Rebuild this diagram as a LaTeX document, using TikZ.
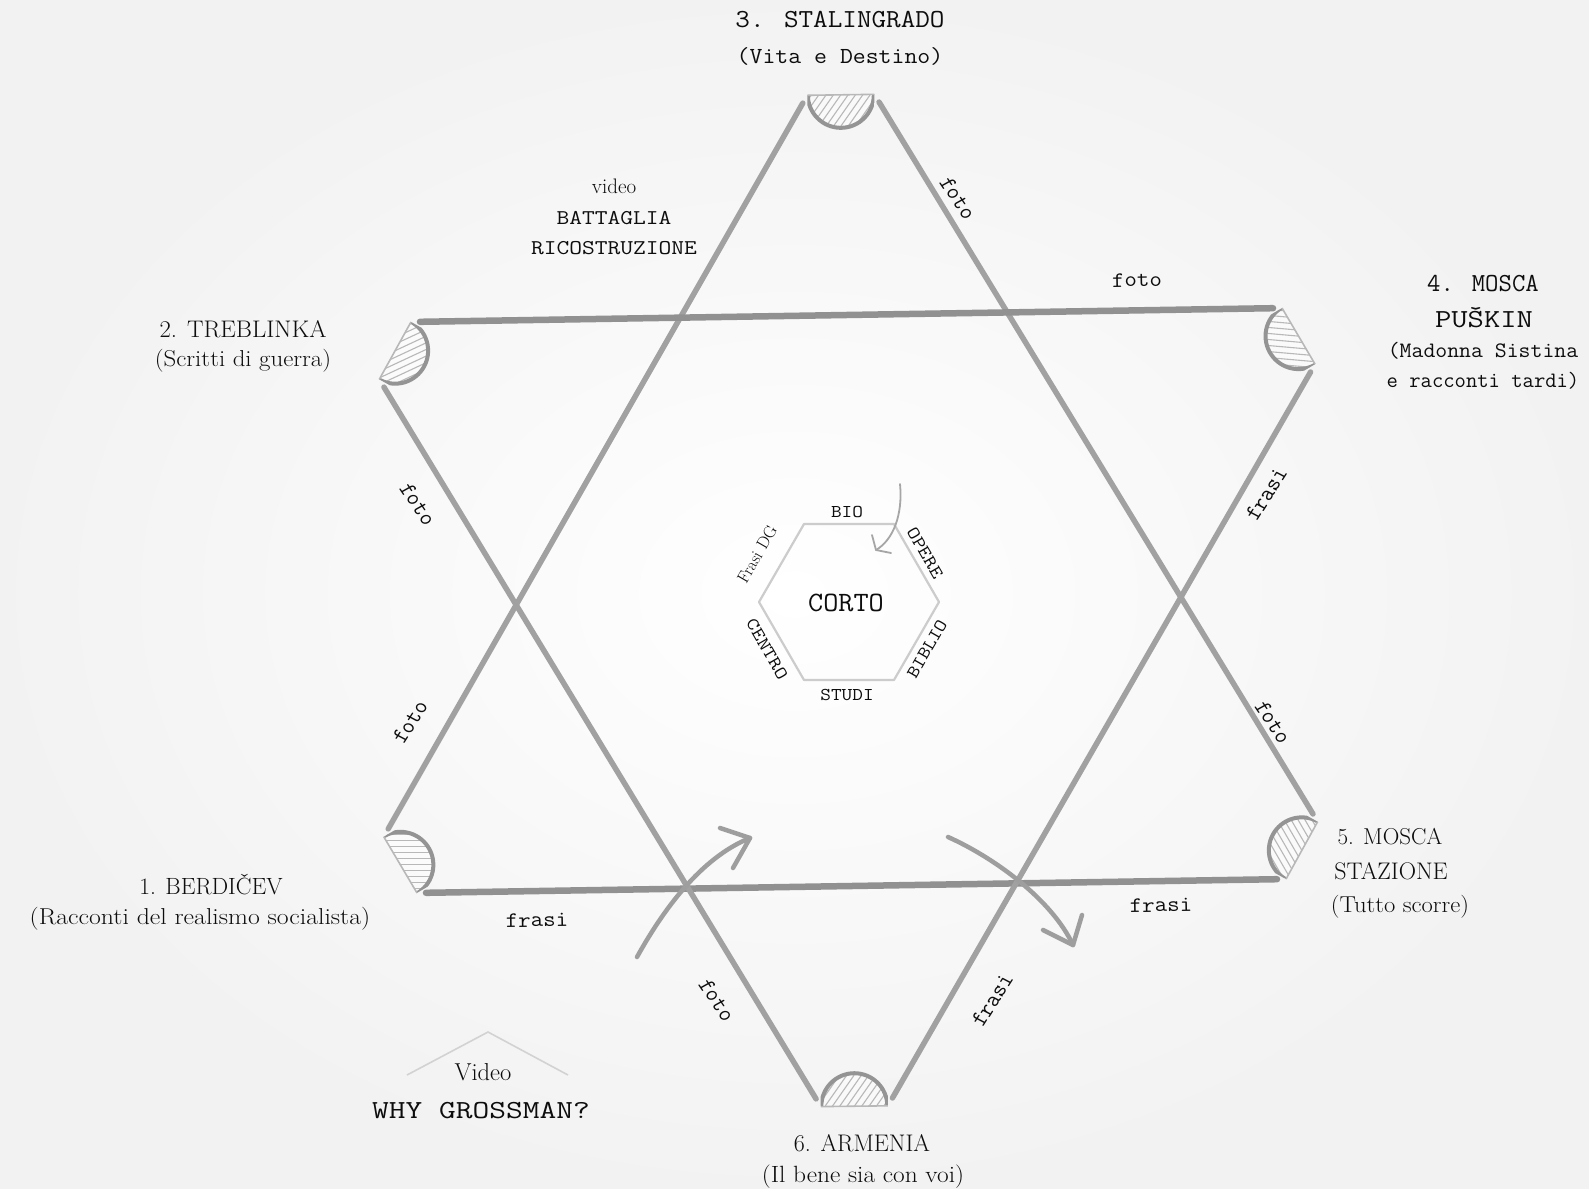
\documentclass[tikz,border=0pt]{standalone}
\usepackage{fontspec}
\usetikzlibrary{calc}
\definecolor{ink}{gray}{0.05}
\definecolor{edgec}{gray}{0.63}
\definecolor{edgedark}{gray}{0.57}
\definecolor{hatchc}{gray}{0.72}
\definecolor{arcc}{gray}{0.58}
\definecolor{hexc}{gray}{0.80}
\definecolor{arrowc}{gray}{0.62}
\newcommand{\capmark}[4]{%
  \coordinate (c1) at ($(#1)!66pt!(#2)$);
  \coordinate (c2) at ($(#1)!66pt!(#3)$);
  \coordinate (cm) at ($(c1)!0.5!(c2)$);
  \begin{scope}
    \clip (c1) -- (c2) -- ($(c2)+(cm)-(#1)$) -- ($(c1)+(cm)-(#1)$) -- cycle;
    \begin{scope}
      \clip (cm) circle (33pt);
      \fill[white,opacity=0.5] (cm) circle (33pt);
      \begin{scope}[shift={(cm)},rotate=#4]
        \foreach \k in {-36,-30,...,36}
          \draw[hatchline] (\k,-40) -- (\k,40);
      \end{scope}
    \end{scope}
    \draw[caparc] (cm) circle (33pt);
  \end{scope}
  \draw[chordline] (c1) -- (c2);
}
\begin{document}
\begin{tikzpicture}[x=1pt,y=-1pt,
  starline/.style={draw=edgec,line width=5.5pt,line cap=round},
  starlinedk/.style={draw=edgedark,line width=6.5pt,line cap=round},
  hatchline/.style={draw=hatchc,line width=1.1pt},
  caparc/.style={draw=arcc,line width=4pt},
  chordline/.style={draw=hatchc,line width=1.6pt},
  hexline/.style={draw=hexc,line width=2.2pt,line join=round},
  arrowline/.style={draw=arrowc,line width=4.5pt,line cap=round},
  tw/.style={font=\ttfamily\fontsize{#1}{#1}\selectfont,text=ink,inner sep=0pt},
  rm/.style={font=\rmfamily\fontsize{#1}{#1}\selectfont,text=ink,inner sep=0pt}
]
\useasboundingbox (0,0) rectangle (1589,1188);
\shade[inner color=white,outer color=black!5] (0,0) rectangle (1589,1188);

% vertices of the two triangles
\coordinate (T)  at (840,38);
\coordinate (BL) at (351,894);
\coordinate (BR) at (1352,878);
\coordinate (TL) at (345,323);
\coordinate (TR) at (1348,307);
\coordinate (BM) at (855,1163);

% triangle pointing up
\draw[starline]   ($(T)!75pt!(BL)$) -- ($(BL)!75pt!(T)$);
\draw[starline]   ($(T)!75pt!(BR)$) -- ($(BR)!75pt!(T)$);
\draw[starlinedk] ($(BL)!75pt!(BR)$) -- ($(BR)!75pt!(BL)$);
% triangle pointing down
\draw[starlinedk] ($(TL)!75pt!(TR)$) -- ($(TR)!75pt!(TL)$);
\draw[starline]   ($(TL)!75pt!(BM)$) -- ($(BM)!75pt!(TL)$);
\draw[starline]   ($(TR)!75pt!(BM)$) -- ($(BM)!75pt!(TR)$);

% hatched caps
\capmark{T}{BL}{BR}{-35}
\capmark{TL}{TR}{BM}{-65}
\capmark{TR}{TL}{BM}{-95}
\capmark{BL}{T}{BR}{90}
\capmark{BM}{TL}{TR}{-35}
\capmark{BR}{T}{BL}{30}

% central hexagon
\draw[hexline] (939,602) -- (894,524) -- (804,524) -- (759,602) -- (804,680) -- (894,680) -- cycle;
\node[tw=28,xscale=1.05] (corto) at (846,603) {CORTO};
\node[tw=18,xscale=1.15] (bio) at (847,512) {BIO};
\node[tw=18,rotate=-60,xscale=1.2] (opere) at (925,553) {OPERE};
\node[tw=18,rotate=60,xscale=1.15] (biblio) at (927,649) {BIBLIO};
\node[tw=18,xscale=1.15] (studi) at (847,695) {STUDI};
\node[tw=18,rotate=-60,xscale=1.2] (centro) at (767,649) {CENTRO};
\node[rm=17,rotate=60] (frasidg) at (757,554) {Frasi DG};

% small arrow in hexagon
\coordinate (ha) at (900,484);
\coordinate (hb) at (876,550);
\coordinate (hc) at (872,535);
\coordinate (hd) at (891,553);
\draw[draw=gray!70,line width=1.8pt,line cap=round] (ha) .. controls (903,515) and (893,540) .. (hb);
\draw[draw=gray!70,line width=1.8pt,line cap=round,line join=round] (hc) -- (hb) -- (hd);

% big curved arrows
\coordinate (a1s) at (637,957);
\coordinate (a1e) at (750,838);
\coordinate (a1b) at (720,828);
\coordinate (a1c) at (733,868);
\draw[arrowline] (a1s) .. controls (662,912) and (700,858) .. (a1e);
\draw[arrowline,line join=round] (a1b) -- (a1e) -- (a1c);
\coordinate (a2s) at (948,837);
\coordinate (a2e) at (1073,945);
\coordinate (a2b) at (1043,930);
\coordinate (a2c) at (1082,915);
\draw[arrowline] (a2s) .. controls (995,858) and (1052,900) .. (a2e);
\draw[arrowline,line join=round] (a2b) -- (a2e) -- (a2c);

% chevron above Video
\coordinate (cv1) at (407,1075);
\coordinate (cv2) at (488,1032);
\coordinate (cv3) at (568,1075);
\draw[draw=gray!35,line width=1.6pt] (cv1) -- (cv2) -- (cv3);

% vertex labels
\node[tw=26,xscale=1.09] (l3a) at (840,20) {3. STALINGRADO};
\node[tw=23,xscale=1.09] (l3b) at (840,56) {(Vita e Destino)};
\node[rm=24,xscale=1.03] (l2a) at (243,329) {2. TREBLINKA};
\node[rm=23,xscale=1.08] (l2b) at (243,361) {(Scritti di guerra)};
\node[tw=26] (l4a) at (1483,284) {4. MOSCA};
\node[tw=26,xscale=1.22] (l4b) at (1484,318) {PUŠKIN};
\node[tw=22,xscale=1.05] (l4c) at (1483,351) {(Madonna Sistina};
\node[tw=22,xscale=1.0] (l4d) at (1483,381) {e racconti tardi)};
\node[rm=23.5] (l1a) at (211,885) {1. BERDIČEV};
\node[rm=23,xscale=1.12] (l1b) at (200,919) {(Racconti del realismo socialista)};
\node[rm=23] (l5a) at (1390,837) {5. MOSCA};
\node[rm=24] (l5b) at (1391,871) {STAZIONE};
\node[rm=23,xscale=1.07] (l5c) at (1400,907) {(Tutto scorre)};
\node[rm=24] (l6a) at (862,1143) {6. ARMENIA};
\node[rm=23.5,xscale=1.08] (l6b) at (863,1177) {(Il bene sia con voi)};

% other labels
\node[rm=21] (vid1) at (614,186) {video};
\node[tw=21,xscale=1.18] (bat) at (614,218) {BATTAGLIA};
\node[tw=21,xscale=1.18] (ric) at (614,248) {RICOSTRUZIONE};
\node[rm=24.5] (vid2) at (483,1072) {Video};
\node[tw=26,xscale=1.25] (why) at (481,1111) {WHY GROSSMAN?};

% edge labels
\node[tw=22,xscale=1.1,rotate=-58.7] (f1) at (958,198) {foto};
\node[tw=22,xscale=1.1,rotate=1] (f2) at (1137,280) {foto};
\node[tw=22,xscale=1.1,rotate=60] (f3) at (1266,494) {frasi};
\node[tw=22,xscale=1.1,rotate=-58.7] (f4) at (1273,722) {foto};
\node[tw=22,xscale=1.1,rotate=1] (f5) at (1161,905) {frasi};
\node[tw=22,xscale=1.1,rotate=60] (f6) at (992,1000) {frasi};
\node[tw=22,xscale=1.1,rotate=-58.7] (f7) at (717,1000) {foto};
\node[tw=22,xscale=1.1,rotate=1] (f8) at (537,920) {frasi};
\node[tw=22,xscale=1.1,rotate=60] (f9) at (410,722) {foto};
\node[tw=22,xscale=1.1,rotate=-58.7] (f10) at (418,504) {foto};
\end{tikzpicture}
\end{document}
